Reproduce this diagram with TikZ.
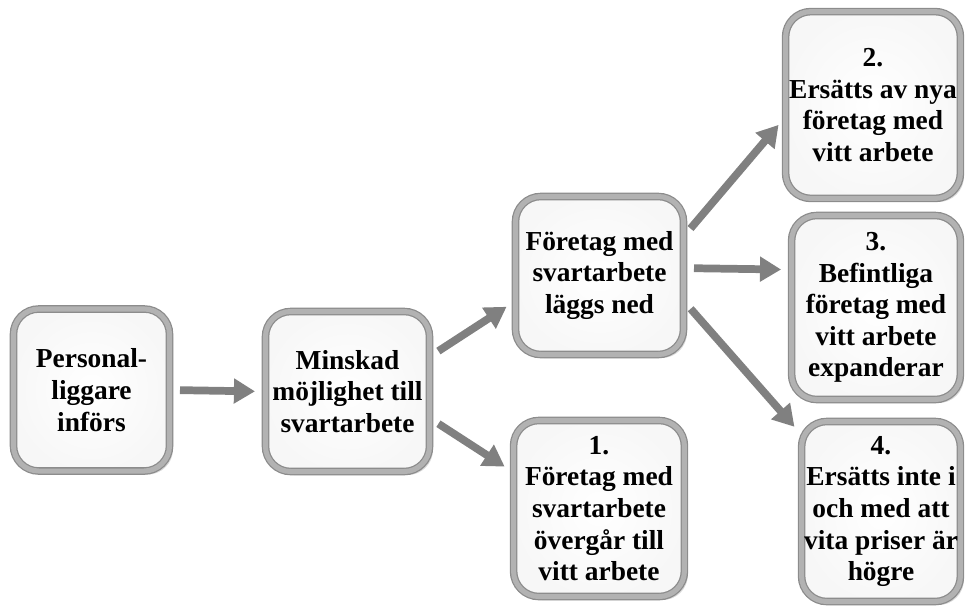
\documentclass[tikz,border=0pt]{standalone}
\usepackage{fontspec}
\setmainfont{Liberation Serif}
\usetikzlibrary{shadows,arrows.meta}
\tikzset{>={Triangle[width=17pt,length=15pt]}}

\begin{document}
\begin{tikzpicture}[x=0.025cm, y=-0.025cm]
  \tikzstyle{bnode} = [rounded corners=18pt, draw=gray!90, double=gray!60, double distance=3.6pt, line width=0.9pt, inner color=white, outer color=gray!6, drop shadow={shadow xshift=2.5pt, shadow yshift=-2.5pt, opacity=0.3}, align=center, inner sep=0pt, font=\fontsize{19.5}{22.5}\selectfont\bfseries]
  \tikzstyle{arr} = [->, draw=gray, line width=5.5pt, shorten <=7pt, shorten >=7pt]

  \useasboundingbox (0,0) rectangle (967,608);

  % left column
  \node[bnode, minimum width=3.9cm, minimum height=4.05cm] (pl) at (91.5,390) {Personal-\\liggare\\införs};
  \node[bnode, minimum width=4.1cm, minimum height=4.0cm] (mk) at (347.5,391.5) {Minskad\\möjlighet till\\svartarbete};

  % middle column
  \node[bnode, minimum width=4.2cm, minimum height=3.95cm] (fd) at (599.5,275.5) {Företag med\\svartarbete\\läggs ned};
  \node[bnode, minimum width=4.27cm, minimum height=4.4cm] (r1) at (599,508.5) {1.\\Företag med\\svartarbete\\övergår till\\vitt arbete};

  % right column
  \node[bnode, minimum width=4.37cm, minimum height=4.67cm] (r2) at (873,105) {2.\\Ersätts av nya\\företag med\\vitt arbete};
  \node[bnode, minimum width=4.22cm, minimum height=4.6cm] (r3) at (876,307.5) {3.\\Befintliga\\företag med\\vitt arbete\\expanderar};
  \node[bnode, minimum width=3.97cm, minimum height=4.5cm] (r4) at (881,511.5) {4.\\Ersätts inte i\\och med att\\vita priser är\\högre};

  \draw[arr] (pl.east) -- (mk.west);
  \draw[arr] (mk.23) -- (fd.197);
  \draw[arr] (mk.-18) -- (r1.157);
  \draw[arr] (fd.25) -- (r2.188);
  \draw[arr] (fd.5) -- (r3.156);
  \draw[arr] (fd.-17) -- (r4.136);
\end{tikzpicture}
\end{document}
